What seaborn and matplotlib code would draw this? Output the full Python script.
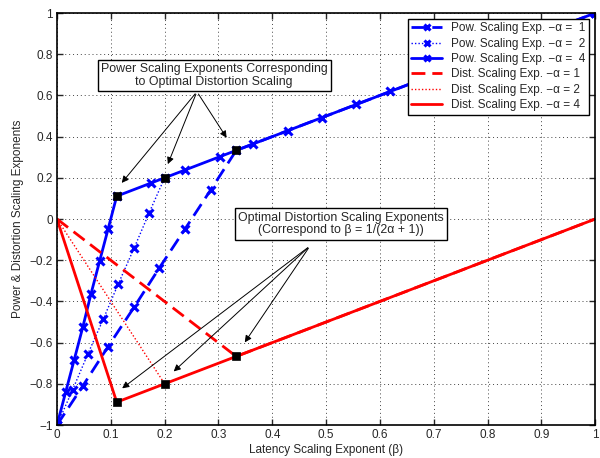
import numpy as np
import pandas as pd
import matplotlib
matplotlib.use('Agg')
import matplotlib.pyplot as plt
import seaborn as sns

# values
pow_a1_x = [0, 0.048, 0.095, 0.143, 0.190, 0.238, 0.286, 0.333, 1.0]
pow_a1_y = [-1, -0.810, -0.619, -0.429, -0.238, -0.048, 0.143, 0.333, 1.0]
pow_a2_x = [0, 0.029, 0.057, 0.086, 0.114, 0.143, 0.171, 0.200, 1.0]
pow_a2_y = [-1, -0.829, -0.657, -0.486, -0.314, -0.143, 0.029, 0.200, 1.0]
pow_a4_x = [0, 0.016, 0.032, 0.048, 0.063, 0.079, 0.095, 0.111, 0.175, 0.238, 0.302,
            0.365, 0.429, 0.492, 0.556, 0.619, 0.683, 0.746, 0.810, 0.873, 0.937, 1.0]
pow_a4_y = [-1, -0.841, -0.683, -0.524, -0.365, -0.206, -0.048, 0.111, 0.175, 0.238, 0.302,
            0.365, 0.429, 0.492, 0.556, 0.619, 0.683, 0.746, 0.810, 0.873, 0.937, 1.0]
dist_a1_x = [0, 0.333, 1.0]
dist_a1_y = [0, -0.667, 0]
dist_a2_x = [0, 0.200, 1.0]
dist_a2_y = [0, -0.800, 0]
dist_a4_x = [0, 0.111, 1.0]
dist_a4_y = [0, -0.889, 0]
opt_x = [0.111, 0.200, 0.333, 0.111, 0.200, 0.333]
opt_y = [0.111, 0.200, 0.333, -0.889, -0.800, -0.667]

sns.set_style('ticks')
plt.rcParams['font.family'] = ['Liberation Sans', 'DejaVu Sans']
plt.rcParams['font.size'] = 8.5

fig = plt.figure(figsize=(6, 4.58), dpi=100)
ax = fig.add_axes([0.095, 0.072, 0.897, 0.8996])

blue = '#0000ff'
red = '#ff0000'
mk = dict(marker='x', markersize=5.5, markeredgewidth=2.2, markeredgecolor=blue)

sns.lineplot(x=pow_a1_x, y=pow_a1_y, sort=False, ax=ax, color=blue, lw=2,
             linestyle=(0, (5, 2.5)), label='Pow. Scaling Exp. \u2212\u03b1 =  1', **mk)
sns.lineplot(x=pow_a2_x, y=pow_a2_y, sort=False, ax=ax, color=blue, lw=1,
             linestyle=(0, (1, 1.5)), label='Pow. Scaling Exp. \u2212\u03b1 =  2', **mk)
sns.lineplot(x=pow_a4_x, y=pow_a4_y, sort=False, ax=ax, color=blue, lw=2,
             linestyle='-', label='Pow. Scaling Exp. \u2212\u03b1 =  4', **mk)
sns.lineplot(x=dist_a1_x, y=dist_a1_y, sort=False, ax=ax, color=red, lw=2,
             linestyle=(0, (5, 2.5)), label='Dist. Scaling Exp. \u2212\u03b1 = 1')
sns.lineplot(x=dist_a2_x, y=dist_a2_y, sort=False, ax=ax, color=red, lw=1,
             linestyle=(0, (1, 1.5)), label='Dist. Scaling Exp. \u2212\u03b1 = 2')
sns.lineplot(x=dist_a4_x, y=dist_a4_y, sort=False, ax=ax, color=red, lw=2,
             linestyle='-', label='Dist. Scaling Exp. \u2212\u03b1 = 4')
sns.scatterplot(x=opt_x, y=opt_y, ax=ax, marker='s', s=36, color='black',
                edgecolor='black', zorder=5)

ax.set_xlim(0, 1)
ax.set_ylim(-1, 1)
ax.set_xticks(np.arange(0, 1.01, 0.1))
ax.set_yticks(np.arange(-1, 1.01, 0.2))
ax.set_xticklabels(['0', '0.1', '0.2', '0.3', '0.4', '0.5', '0.6', '0.7', '0.8', '0.9', '1'])
ax.set_yticklabels(['\u22121', '\u22120.8', '\u22120.6', '\u22120.4', '\u22120.2', '0',
                    '0.2', '0.4', '0.6', '0.8', '1'])
ax.grid(True, color='#444444', linestyle=(0, (1, 3)), linewidth=0.7)
ax.tick_params(direction='in', top=True, right=True, length=4, width=1, labelsize=8.5, pad=3)
for s in ax.spines.values():
    s.set_linewidth(1.2)
    s.set_color('black')
ax.set_xlabel('Latency Scaling Exponent (\u03b2)', fontsize=8.5, labelpad=2)
ax.set_ylabel('Power & Distortion Scaling Exponents', fontsize=8.5, labelpad=4)

leg = ax.legend(loc='upper right', fontsize=8.5, frameon=True, fancybox=False,
                edgecolor='black', framealpha=1, borderaxespad=0.5,
                handlelength=2.6, labelspacing=0.28, borderpad=0.3,
                markerscale=0.8)
leg.get_frame().set_linewidth(1)

# annotation boxes with arrows
box = dict(boxstyle='square,pad=0.25', fc='white', ec='black', lw=1)
arr = dict(arrowstyle='-|>', color='black', lw=0.7, mutation_scale=10)
ax.text(0.292, 0.697, 'Power Scaling Exponents Corresponding\nto Optimal Distortion Scaling',
        ha='center', va='center', fontsize=8.9, bbox=box, zorder=6, linespacing=1.1)
for tx, ty in [(0.117, 0.165), (0.204, 0.254), (0.318, 0.383)]:
    ax.annotate('', xy=(tx, ty), xytext=(0.26, 0.618), arrowprops=arr, zorder=4)
ax.text(0.528, -0.024, 'Optimal Distortion Scaling Exponents\n(Correspond to \u03b2 = 1/(2\u03b1 + 1))',
        ha='center', va='center', fontsize=8.9, bbox=box, zorder=6, linespacing=1.1)
for tx, ty in [(0.117, -0.83), (0.213, -0.749), (0.346, -0.61)]:
    ax.annotate('', xy=(tx, ty), xytext=(0.47, -0.131), arrowprops=arr, zorder=4)

fig.savefig('out.png', dpi=100)
